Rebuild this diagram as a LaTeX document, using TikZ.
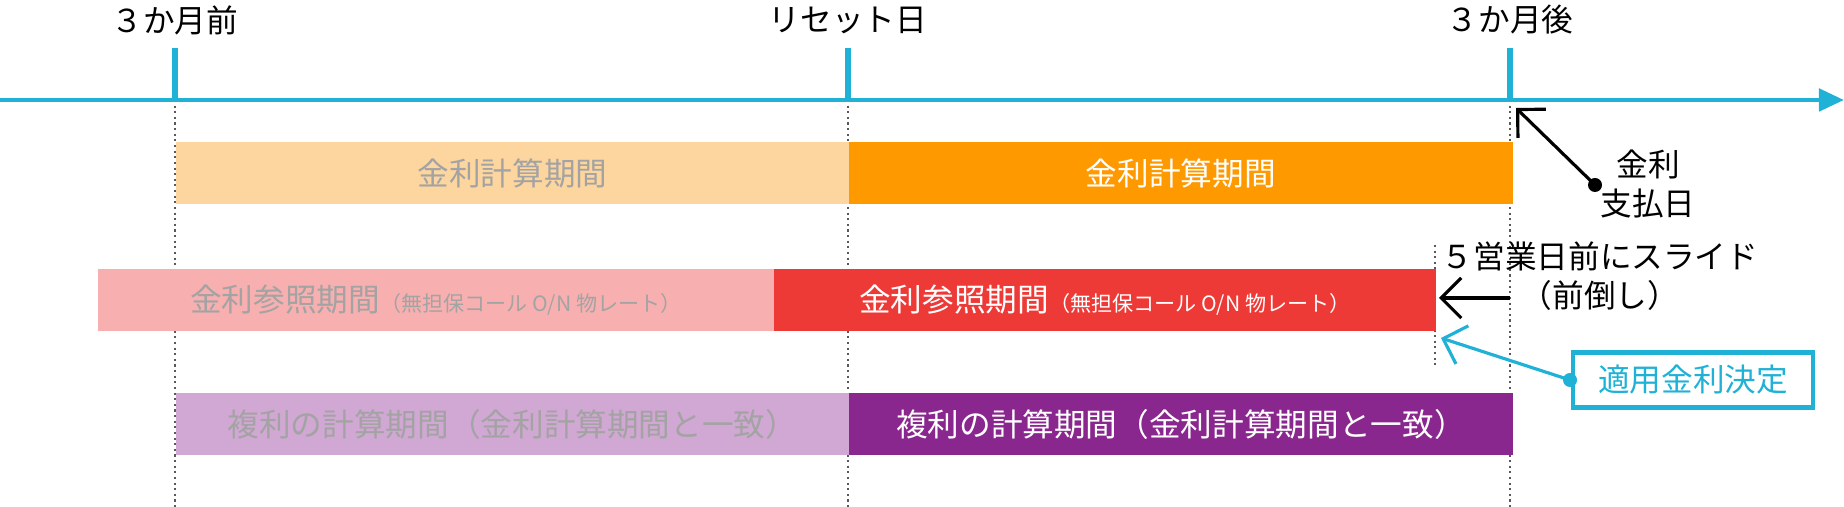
\documentclass[tikz,border=0pt]{standalone}
\usepackage{fontspec}
\setmainfont{Noto Sans CJK JP}
\usetikzlibrary{arrows.meta}
\definecolor{cy}{HTML}{1FB1D6}
\definecolor{lor}{HTML}{FDD59E}
\definecolor{orr}{HTML}{FF9900}
\definecolor{lpk}{HTML}{F7B0AF}
\definecolor{rd}{HTML}{EE3A36}
\definecolor{lpu}{HTML}{D0A8D3}
\definecolor{pu}{HTML}{8A278E}
\definecolor{gt}{HTML}{A3A3A3}
\tikzset{
 lbl/.style={font=\fontsize{9}{11}\selectfont,inner sep=0pt},
 small/.style={font=\fontsize{6}{8}\selectfont},
 bar/.style={minimum height=0.62cm,inner sep=0pt,anchor=west,font=\fontsize{9}{11}\selectfont},
 dotl/.style={densely dotted,gray!70!black,line width=0.6pt},
}
\begin{document}
\begin{tikzpicture}[x=0.01cm,y=-0.01cm]
\useasboundingbox (0,0) rectangle (1844,507);
% dotted verticals
\foreach \x in {175,848,1510} \draw[dotl] (\x,100) -- (\x,507);
\draw[dotl] (1435,245) -- (1435,365);
% bars
\node[bar,fill=lor,minimum width=6.73cm,text=gt] (b1l) at (175,173) {金利計算期間};
\node[bar,fill=orr,minimum width=6.64cm,text=white] (b1r) at (848,173) {金利計算期間};
\node[bar,fill=lpk,minimum width=6.76cm,text=gt] (b2l) at (97,300) {金利参照期間{\fontsize{6}{8}\selectfont（無担保コール O/N 物レート）}};
\node[bar,fill=rd,minimum width=6.62cm,text=white] (b2r) at (773,300) {金利参照期間{\fontsize{6}{8}\selectfont（無担保コール O/N 物レート）}};
\node[bar,fill=lpu,minimum width=6.73cm,text=gt] (b3l) at (175,424) {複利の計算期間（金利計算期間と一致）};
\node[bar,fill=pu,minimum width=6.64cm,text=white] (b3r) at (848,424) {複利の計算期間（金利計算期間と一致）};
% axis
\coordinate (a0) at (0,100); \coordinate (a1) at (1844,100);
\draw[cy,line width=1.4pt,-{Triangle[length=0.25cm,width=0.22cm]}] (a0) -- (a1);
\foreach \x/\n/\t in {175/p/３か月前,848/r/リセット日,1510/a/３か月後}{
 \coordinate (t\n) at (\x,100);
 \draw[cy,line width=1.6pt] (\x,48) -- (t\n);
 \node[lbl] (l\n) at (\x,20) {\t};}
% pay date
\node[lbl,align=center] (pay) at (1648,184) {金利\\支払日};
\coordinate (pd) at (1595,185);
\fill (pd) circle (0.07cm);
\draw[line width=0.9pt,-{Straight Barb[length=0.2cm]}] (pd) -- (1516,108);
% slide
\node[lbl,align=center] (sl) at (1600,276) {５営業日前にスライド\\（前倒し）};
\coordinate (s0) at (1510,298); \coordinate (s1) at (1439,298);
\draw[line width=0.9pt,-{Straight Barb[length=0.2cm]}] (s0) -- (s1);
% decision
\node[draw=cy,line width=1.2pt,text=cy,lbl,inner xsep=0.25cm,minimum height=0.55cm] (dec) at (1693,380) {適用金利決定};
\coordinate (dd) at (1570,380);
\fill[cy] (dd) circle (0.07cm);
\draw[cy,line width=0.9pt,-{Straight Barb[length=0.2cm]}] (dd) -- (1441,338);
\end{tikzpicture}
\end{document}
